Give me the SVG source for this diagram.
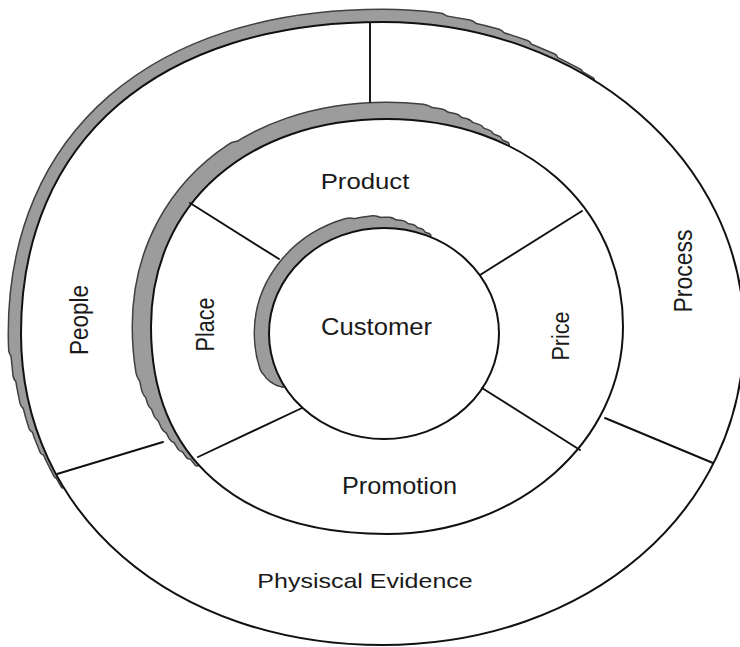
<svg xmlns="http://www.w3.org/2000/svg" xmlns:xlink="http://www.w3.org/1999/xlink" width="740" height="647" viewBox="0 0 740 647">
<style>
.ring{fill:#ffffff;stroke:#111111;stroke-width:2}
.sd{fill:none;stroke:#404040;stroke-linecap:round}
.sg{fill:none;stroke:#9c9c9c;stroke-linecap:round}
.div{stroke:#111111;stroke-width:1.9;fill:none;stroke-linecap:round}
.lbl{font-family:"Liberation Sans",Arial,"Helvetica",sans-serif;fill:#1a1a1a;text-anchor:middle}
</style>
<defs>
<path id="outerShape" pathLength="1000" d="M744,333.5 C744,511.1 588.6,645 382.5,645 C172.8,645 21,514.2 21,333.5 C21,140.4 158.4,22 382.5,22 C583.1,22 744,160.6 744,333.5 Z"/>
<path id="middleShape" pathLength="1000" d="M623,326.5 C623,441.7 518,534 387,534 C238.3,534 151,457.2 151,326.5 C151,204.1 247.8,119 387,119 C523.9,119 623,206.1 623,326.5 Z"/>
<path id="innerShape" pathLength="1000" d="M499,333.5 A115,105.5 0 0 1 384,439 A115,105.5 0 0 1 269,333.5 A115,105.5 0 0 1 384,228 A115,105.5 0 0 1 499,333.5 Z"/>
</defs>
<rect width="740" height="647" fill="#ffffff"/>
<g id="ring-extended">
<g id="ring-extended-shadow">
<use xlink:href="#outerShape" class="sd" stroke-width="27" stroke-dasharray="286 3000" stroke-dashoffset="-492"/>
<use xlink:href="#outerShape" class="sd" stroke-width="23" stroke-dasharray="312 3000" stroke-dashoffset="-480"/>
<use xlink:href="#outerShape" class="sd" stroke-width="19" stroke-dasharray="339 3000" stroke-dashoffset="-467"/>
<use xlink:href="#outerShape" class="sd" stroke-width="15" stroke-dasharray="365 3000" stroke-dashoffset="-455"/>
<use xlink:href="#outerShape" class="sd" stroke-width="11" stroke-dasharray="391 3000" stroke-dashoffset="-443"/>
<use xlink:href="#outerShape" class="sd" stroke-width="7" stroke-dasharray="418 3000" stroke-dashoffset="-430"/>
<use xlink:href="#outerShape" class="sd" stroke-width="5" stroke-dasharray="431 3000" stroke-dashoffset="-424"/>
<use xlink:href="#outerShape" class="sg" stroke-width="24" stroke-dasharray="286 3000" stroke-dashoffset="-492"/>
<use xlink:href="#outerShape" class="sg" stroke-width="20" stroke-dasharray="312 3000" stroke-dashoffset="-480"/>
<use xlink:href="#outerShape" class="sg" stroke-width="16" stroke-dasharray="339 3000" stroke-dashoffset="-467"/>
<use xlink:href="#outerShape" class="sg" stroke-width="12" stroke-dasharray="365 3000" stroke-dashoffset="-455"/>
<use xlink:href="#outerShape" class="sg" stroke-width="8" stroke-dasharray="391 3000" stroke-dashoffset="-443"/>
<use xlink:href="#outerShape" class="sg" stroke-width="4" stroke-dasharray="418 3000" stroke-dashoffset="-430"/>
<use xlink:href="#outerShape" class="sg" stroke-width="2" stroke-dasharray="431 3000" stroke-dashoffset="-424"/>
</g>
<use xlink:href="#outerShape" class="ring"/>
</g>
<g id="ring-marketing-mix">
<g id="ring-marketing-mix-shadow">
<use xlink:href="#middleShape" class="sd" stroke-width="39" stroke-dasharray="170 3000" stroke-dashoffset="-470"/>
<use xlink:href="#middleShape" class="sd" stroke-width="35" stroke-dasharray="317 3000" stroke-dashoffset="-458"/>
<use xlink:href="#middleShape" class="sd" stroke-width="31" stroke-dasharray="338 3000" stroke-dashoffset="-449"/>
<use xlink:href="#middleShape" class="sd" stroke-width="27" stroke-dasharray="357 3000" stroke-dashoffset="-440"/>
<use xlink:href="#middleShape" class="sd" stroke-width="23" stroke-dasharray="376 3000" stroke-dashoffset="-430"/>
<use xlink:href="#middleShape" class="sd" stroke-width="19" stroke-dasharray="394 3000" stroke-dashoffset="-421"/>
<use xlink:href="#middleShape" class="sd" stroke-width="15" stroke-dasharray="411 3000" stroke-dashoffset="-412"/>
<use xlink:href="#middleShape" class="sd" stroke-width="11" stroke-dasharray="427 3000" stroke-dashoffset="-404"/>
<use xlink:href="#middleShape" class="sd" stroke-width="7" stroke-dasharray="442 3000" stroke-dashoffset="-396"/>
<use xlink:href="#middleShape" class="sg" stroke-width="36" stroke-dasharray="170 3000" stroke-dashoffset="-470"/>
<use xlink:href="#middleShape" class="sg" stroke-width="32" stroke-dasharray="317 3000" stroke-dashoffset="-458"/>
<use xlink:href="#middleShape" class="sg" stroke-width="28" stroke-dasharray="338 3000" stroke-dashoffset="-449"/>
<use xlink:href="#middleShape" class="sg" stroke-width="24" stroke-dasharray="357 3000" stroke-dashoffset="-440"/>
<use xlink:href="#middleShape" class="sg" stroke-width="20" stroke-dasharray="376 3000" stroke-dashoffset="-430"/>
<use xlink:href="#middleShape" class="sg" stroke-width="16" stroke-dasharray="394 3000" stroke-dashoffset="-421"/>
<use xlink:href="#middleShape" class="sg" stroke-width="12" stroke-dasharray="411 3000" stroke-dashoffset="-412"/>
<use xlink:href="#middleShape" class="sg" stroke-width="8" stroke-dasharray="427 3000" stroke-dashoffset="-404"/>
<use xlink:href="#middleShape" class="sg" stroke-width="4" stroke-dasharray="442 3000" stroke-dashoffset="-396"/>
</g>
<use xlink:href="#middleShape" class="ring"/>
</g>
<g id="customer-core">
<g id="customer-core-shadow">
<use xlink:href="#innerShape" class="sd" stroke-width="31" stroke-dasharray="245 3000" stroke-dashoffset="-455"/>
<use xlink:href="#innerShape" class="sd" stroke-width="27" stroke-dasharray="289 3000" stroke-dashoffset="-446"/>
<use xlink:href="#innerShape" class="sd" stroke-width="23" stroke-dasharray="317 3000" stroke-dashoffset="-440"/>
<use xlink:href="#innerShape" class="sd" stroke-width="19" stroke-dasharray="340 3000" stroke-dashoffset="-435"/>
<use xlink:href="#innerShape" class="sd" stroke-width="15" stroke-dasharray="359 3000" stroke-dashoffset="-431"/>
<use xlink:href="#innerShape" class="sd" stroke-width="11" stroke-dasharray="376 3000" stroke-dashoffset="-427"/>
<use xlink:href="#innerShape" class="sd" stroke-width="7" stroke-dasharray="392 3000" stroke-dashoffset="-423"/>
<use xlink:href="#innerShape" class="sg" stroke-width="28" stroke-dasharray="245 3000" stroke-dashoffset="-455"/>
<use xlink:href="#innerShape" class="sg" stroke-width="24" stroke-dasharray="289 3000" stroke-dashoffset="-446"/>
<use xlink:href="#innerShape" class="sg" stroke-width="20" stroke-dasharray="317 3000" stroke-dashoffset="-440"/>
<use xlink:href="#innerShape" class="sg" stroke-width="16" stroke-dasharray="340 3000" stroke-dashoffset="-435"/>
<use xlink:href="#innerShape" class="sg" stroke-width="12" stroke-dasharray="359 3000" stroke-dashoffset="-431"/>
<use xlink:href="#innerShape" class="sg" stroke-width="8" stroke-dasharray="376 3000" stroke-dashoffset="-427"/>
<use xlink:href="#innerShape" class="sg" stroke-width="4" stroke-dasharray="392 3000" stroke-dashoffset="-423"/>
</g>
<use xlink:href="#innerShape" class="ring"/>
</g>
<g id="connectors">
<line class="div" x1="370" y1="23" x2="370" y2="102"/>
<line class="div" x1="57" y1="474" x2="163" y2="442"/>
<line class="div" x1="605" y1="418" x2="713" y2="463"/>
<line class="div" x1="190" y1="203" x2="279" y2="259"/>
<line class="div" x1="582" y1="211" x2="480" y2="275"/>
<line class="div" x1="198" y1="457" x2="302" y2="408"/>
<line class="div" x1="482" y1="388" x2="580" y2="450"/>
</g>
<g id="customer"><text class="lbl" font-size="23.5" transform="translate(376.5,335) scale(1.09,1)">Customer</text></g>
<g id="product"><text class="lbl" font-size="22" transform="translate(365,189) scale(1.17,1)">Product</text></g>
<g id="promotion"><text class="lbl" font-size="23" transform="translate(399.5,494) scale(1.1,1)">Promotion</text></g>
<g id="place"><text class="lbl" font-size="21.6" transform="translate(214,324.5) scale(1.16,1) rotate(-90)">Place</text></g>
<g id="price"><text class="lbl" font-size="21.5" transform="translate(569,336) scale(1.15,1) rotate(-90)">Price</text></g>
<g id="people"><text class="lbl" font-size="22.5" transform="translate(88,320) scale(1.12,1) rotate(-90)">People</text></g>
<g id="process"><text class="lbl" font-size="23" transform="translate(692,271) scale(1.12,1) rotate(-90)">Process</text></g>
<g id="physical-evidence"><text class="lbl" font-size="20.5" transform="translate(365,588) scale(1.22,1)">Physiscal Evidence</text></g>
</svg>
